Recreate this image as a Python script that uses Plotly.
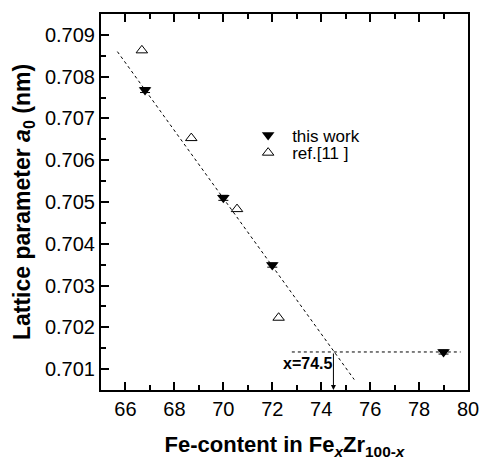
import plotly.graph_objects as go

# this work
fe_this = [66.8, 70.0, 72.0, 79.0]
a0_this = [0.70768, 0.70510, 0.70349, 0.70141]
err_this = [0.00006, 0.00006, 0.00005, 0.00005]

# ref.[11]
fe_ref = [66.67, 68.69, 70.56, 72.26]
a0_ref = [0.70863, 0.70653, 0.70483, 0.70223]

# linear fit (dotted line) and horizontal level
fit_x = [65.67, 75.35]
fit_y = [0.70860, 0.70075]
lvl_x = [72.8, 79.7]
lvl_y = [0.70141, 0.70141]
x_cross = 74.5

FONT = "Arial, Liberation Sans, sans-serif"

fig = go.Figure()
fig.add_trace(go.Scatter(x=fit_x, y=fit_y, mode="lines",
                         line=dict(color="black", width=1, dash="dot"),
                         showlegend=False, hoverinfo="skip"))
fig.add_trace(go.Scatter(x=lvl_x, y=lvl_y, mode="lines",
                         line=dict(color="black", width=1, dash="dot"),
                         showlegend=False, hoverinfo="skip"))
fig.add_trace(go.Scatter(x=fe_this, y=a0_this, mode="markers", name="this work",
                         legend="legend",
                         marker=dict(symbol="triangle-down", size=11, color="black"),
                         error_y=dict(type="data", array=err_this, color="black",
                                      thickness=1, width=5)))
fig.add_trace(go.Scatter(x=fe_ref, y=a0_ref, mode="markers", name="ref.[11 ]",
                         legend="legend2",
                         marker=dict(symbol="triangle-up-open", size=10, color="black",
                                     line=dict(width=1, color="black"))))

fig.add_annotation(x=x_cross, y=0.7005, ax=x_cross, ay=lvl_y[0],
                   xref="x", yref="y", axref="x", ayref="y",
                   showarrow=True, arrowhead=2, arrowsize=1, arrowwidth=1,
                   arrowcolor="black", text="")
fig.add_annotation(x=x_cross, y=0.70113, xref="x", yref="y", xshift=1,
                   text="<b>x=74.5</b>", showarrow=False, xanchor="right",
                   font=dict(family=FONT, size=16, color="black"))

axis_common = dict(showgrid=False, zeroline=False, showline=True, linecolor="black",
                   linewidth=2, ticks="inside", tickcolor="black", tickwidth=1.5,
                   ticklen=8, tickfont=dict(family=FONT, size=20, color="black"))

fig.update_xaxes(range=[65, 80], dtick=2, tick0=66, mirror="ticks",
                 minor=dict(dtick=1, ticks="inside", ticklen=5, tickcolor="black", tickwidth=1.5),
                 title=dict(text="<b>Fe-content in Fe<sub><i>x</i></sub>Zr<sub>100-<i>x</i></sub></b>",
                            font=dict(family=FONT, size=22, color="black"), standoff=18),
                 **axis_common)
fig.update_yaxes(range=[0.7005, 0.7095], dtick=0.001, tick0=0.701, mirror=True,
                 tickformat=".3f",
                 minor=dict(dtick=0.0005, ticks="inside", ticklen=5, tickcolor="black", tickwidth=1.5),
                 title=dict(text="<b>Lattice parameter <i>a</i><sub>0</sub> (nm)</b>",
                            font=dict(family=FONT, size=23, color="black"), standoff=8),
                 **axis_common)

leg_common = dict(xanchor="left", yanchor="middle", bgcolor="rgba(0,0,0,0)",
                  font=dict(family=FONT, size=17, color="black"), itemwidth=38,
                  itemsizing="trace")
fig.update_layout(width=491, height=467, margin=dict(l=101, r=12, t=13, b=77),
                  paper_bgcolor="white", plot_bgcolor="white",
                  legend=dict(x=0.39, y=0.677, **leg_common),
                  legend2=dict(x=0.39, y=0.630, **leg_common),
                  font=dict(family=FONT, color="black"))

fig.write_html("out.html")
